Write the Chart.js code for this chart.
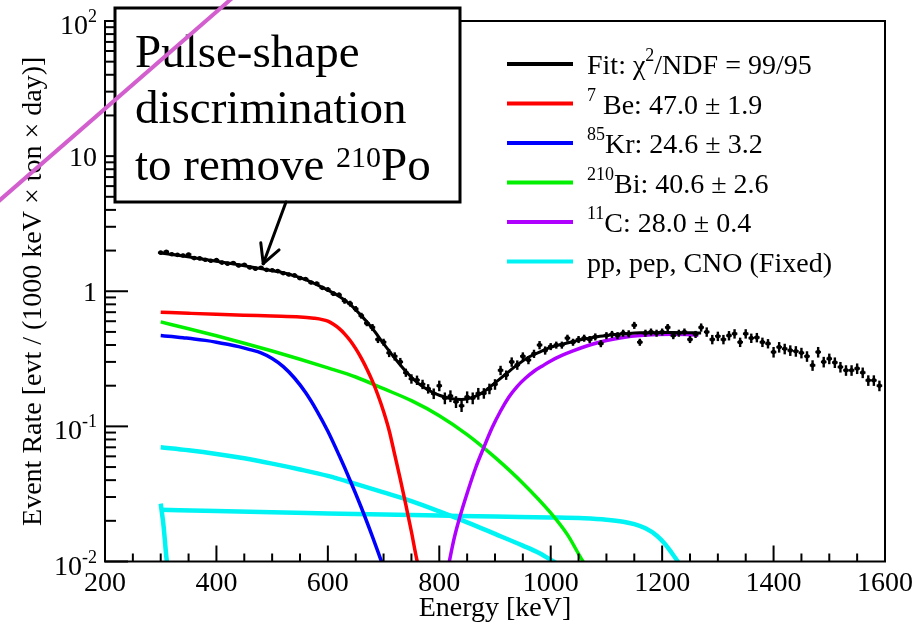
<!DOCTYPE html>
<html>
<head>
<meta charset="utf-8">
<script src="https://cdn.jsdelivr.net/npm/chart.js@4.4.1/dist/chart.umd.min.js"></script>
<style>
  html, body { margin:0; padding:0; background:#fff; }
  #wrap { width:916px; height:623px; }
</style>
</head>
<body>
<div id="wrap"><canvas id="spec" width="916" height="623"></canvas></div>
<script>
// ── measured spectrum (10 keV bins) ─────────────────────────
const binE = [
  300,310,320,330,340,350,360,370,380,390,
  400,410,420,430,440,450,460,470,480,490,
  500,510,520,530,540,550,560,570,580,590,
  600,610,620,630,640,650,660,670,680,690,
  700,710,720,730,740,750,760,770,780,790,
  800,810,820,830,840,850,860,870,880,890,
  900,910,920,930,940,950,960,970,980,990,
  1000,1010,1020,1030,1040,1050,1060,1070,1080,1090,
  1100,1110,1120,1130,1140,1150,1160,1170,1180,1190,
  1200,1210,1220,1230,1240,1250,1260,1270,1280,1290,
  1300,1310,1320,1330,1340,1350,1360,1370,1380,1390,
  1400,1410,1420,1430,1440,1450,1460,1470,1480,1490,
  1500,1510,1520,1530,1540,1550,1560,1570,1580,1590
];
const rate = [
  1.93,1.96,1.88,1.86,1.84,1.87,1.76,1.75,1.71,1.68,
  1.70,1.63,1.60,1.62,1.55,1.57,1.50,1.47,1.49,1.44,
  1.43,1.41,1.36,1.33,1.31,1.25,1.23,1.16,1.14,1.06,
  1.03,0.96,0.94,0.85,0.81,0.74,0.66,0.58,0.54,0.44,
  0.42,0.35,0.33,0.30,0.25,0.225,0.22,0.205,0.19,0.175,
  0.20,0.162,0.168,0.152,0.142,0.165,0.162,0.175,0.176,0.19,
  0.205,0.26,0.24,0.30,0.285,0.33,0.31,0.345,0.40,0.365,
  0.39,0.40,0.40,0.45,0.42,0.44,0.45,0.44,0.46,0.41,
  0.47,0.48,0.47,0.49,0.485,0.56,0.42,0.49,0.50,0.49,
  0.50,0.54,0.47,0.49,0.50,0.44,0.48,0.54,0.50,0.44,
  0.465,0.44,0.47,0.485,0.42,0.485,0.45,0.455,0.42,0.41,
  0.355,0.386,0.375,0.365,0.36,0.35,0.33,0.283,0.355,0.30,
  0.317,0.297,0.275,0.26,0.26,0.268,0.25,0.219,0.219,0.20
];
// relative uncertainty of each bin, percent
const ratePctErr = [
  3,3,3,3,3,3,3,3,3,3,
  3,3,3,3,3,3,3,3,3,3,
  3,3,3,3,3,3,3,3,3,3,
  4,4,4,5,5,5,5,5,6,6,
  6,7,7,7,7,8,8,8,8,9,
  9,10,10,10,10,10,10,10,9,9,
  9,8,8,8,8,7,7,7,7,7,
  6,6,6,6,6,6,6,6,6,6,
  6,6,6,6,6,6,6,6,6,6,
  6,6,6,6,6,6,6,7,8,8,
  8,8,8,8,8,8,8,8,8,8,
  9,9,9,9,9,9,9,9,9,9,
  9,9,9,9,9,9,9,9,9,9
];
const binHalfWidth = 5;

// ── fit and its components ──────────────────────────────────
const fitE = [300,320,340,360,380,400,420,440,460,480,500,520,540,560,580,600,620,640,660,680,
  700,720,740,760,780,800,820,840,860,880,900,920,940,960,980,1000,1020,1040,1060,1080,
  1100,1120,1140,1160,1180,1200,1220,1240,1260,1270];
const fitRate = [1.92,1.87,1.82,1.77,1.72,1.67,1.62,1.57,1.52,1.47,1.42,1.37,1.30,1.22,1.12,1.02,0.92,0.80,0.66,0.53,
  0.41,0.32,0.255,0.212,0.186,0.170,0.161,0.158,0.164,0.180,0.210,0.245,0.285,0.325,0.355,0.385,0.405,0.425,0.442,0.458,
  0.470,0.480,0.487,0.492,0.494,0.495,0.495,0.494,0.492,0.491];

const be7E    = [300,350,400,450,500,550,575,590,600,610,620,630,640,650,660,670,680,690,700,710,720,730,740,750,760,768];
const be7Rate = [0.70,0.687,0.675,0.665,0.656,0.646,0.631,0.617,0.600,0.569,0.531,0.484,0.432,0.376,0.320,0.266,0.216,0.170,0.129,0.0933,0.0617,0.0407,0.0263,0.0166,0.0102,0.0078];

const kr85E    = [300,320,340,360,380,400,420,440,460,480,500,520,540,560,580,600,620,640,660,680,690,700];
const kr85Rate = [0.470,0.462,0.453,0.444,0.433,0.420,0.405,0.389,0.370,0.350,0.318,0.277,0.228,0.178,0.131,0.092,0.0613,0.0398,0.0251,0.0153,0.0118,0.0090];

const bi210E    = [300,350,400,450,500,550,600,650,700,750,800,850,900,950,1000,1030,1058,1066];
const bi210Rate = [0.593,0.528,0.468,0.412,0.361,0.314,0.271,0.232,0.19,0.155,0.12,0.087,0.059,0.038,0.0229,0.0158,0.0100,0.0090];

const c11E    = [812,818,827,837,850,865,880,895,910,925,940,955,970,985,1000,1020,1040,1070,1100,1130,1160,1190,1220,1245,1265];
const c11Rate = [0.0075,0.0100,0.0150,0.0214,0.032,0.049,0.070,0.098,0.13,0.165,0.198,0.228,0.256,0.28,0.305,0.335,0.362,0.40,0.432,0.455,0.470,0.478,0.480,0.478,0.473];

const cnoE    = [300,350,400,450,500,550,600,650,700,750,800,850,900,950,980,1005,1012];
const cnoRate = [0.070,0.0665,0.0625,0.058,0.053,0.048,0.043,0.0375,0.0325,0.028,0.0235,0.0195,0.016,0.0131,0.0115,0.0100,0.0096];

const pepE    = [300,400,500,600,700,800,900,1000,1060,1100,1130,1150,1170,1190,1205,1217,1228,1233];
const pepRate = [0.0242,0.0236,0.0231,0.0227,0.0223,0.0219,0.0215,0.0212,0.0209,0.0204,0.0197,0.0189,0.0176,0.0156,0.0135,0.0116,0.0100,0.0093];

const ppE    = [300,305,311,312];
const ppRate = [0.0268,0.0185,0.0100,0.0095];

// ── axis ticks and legend text ──────────────────────────────
const xTickLabels = [200,400,600,800,1000,1200,1400,1600];
const yTickValues = [0.01,0.1,1,10,100];
const yTickBase   = ['10','10','1','10','10'];
const yTickExp    = ['-2','-1','','','2'];

const legendItems = [
  { color:'#000000', parts:[['Fit: \u03c7',0],['2',1],['/NDF = 99/95',0]] },
  { color:'#ff0000', parts:[['7',1],[' Be: 47.0 \u00b1 1.9',0]] },
  { color:'#0000ff', parts:[['85',1],['Kr: 24.6 \u00b1 3.2',0]] },
  { color:'#00f000', parts:[['210',1],['Bi: 40.6 \u00b1 2.6',0]] },
  { color:'#b000ff', parts:[['11',1],['C: 28.0 \u00b1 0.4',0]] },
  { color:'#00f4f4', parts:[['pp, pep, CNO (Fixed)',0]] }
];

const SERIF = '"Liberation Serif", "Times New Roman", serif';

function pts(xs, ys) { return xs.map((e, i) => ({ x: e, y: ys[i] })); }

function curve(label, xs, ys, color, width, order) {
  return {
    label, data: pts(xs, ys), borderColor: color, borderWidth: width,
    pointRadius: 0, fill: false, cubicInterpolationMode: 'monotone', clip: 0, order
  };
}

// draws a run of [text, isSuperscript] pieces starting at x
function richText(ctx, parts, x, y, size, supSize, supRise, align) {
  const w = parts.reduce((s, [t, sup]) => {
    ctx.font = (sup ? supSize : size) + 'px ' + SERIF;
    return s + ctx.measureText(t).width;
  }, 0);
  let cx = align === 'right' ? x - w : align === 'center' ? x - w / 2 : x;
  ctx.textAlign = 'left';
  ctx.textBaseline = 'alphabetic';
  parts.forEach(([t, sup]) => {
    ctx.font = (sup ? supSize : size) + 'px ' + SERIF;
    ctx.fillText(t, cx, sup ? y - supRise : y);
    cx += ctx.measureText(t).width;
  });
}

function seg(ctx, x1, y1, x2, y2) {
  ctx.beginPath(); ctx.moveTo(x1, y1); ctx.lineTo(x2, y2); ctx.stroke();
}

const decorations = {
  id: 'decorations',
  afterDatasetsDraw(chart) {
    const { ctx, chartArea: a, scales: { x, y } } = chart;
    ctx.save();
    ctx.fillStyle = '#000';
    ctx.strokeStyle = '#000';

    // error bars on the measured points
    ctx.lineWidth = 2.4;
    binE.forEach((e, i) => {
      const v = rate[i], d = v * ratePctErr[i] / 100;
      const px = x.getPixelForValue(e), py = y.getPixelForValue(v);
      seg(ctx, px, y.getPixelForValue(v + d), px, y.getPixelForValue(v - d));
      seg(ctx, x.getPixelForValue(e - binHalfWidth), py, x.getPixelForValue(e + binHalfWidth), py);
    });

    // frame
    ctx.lineWidth = 2;
    ctx.strokeRect(a.left, a.top, a.right - a.left, a.bottom - a.top);

    // x ticks every 50 keV, long ones at the labels
    for (let e = x.min; e <= x.max; e += 50) {
      const px = x.getPixelForValue(e);
      seg(ctx, px, a.bottom, px, a.bottom - (e % 200 === 0 ? 16 : 8));
    }
    ctx.textAlign = 'center';
    ctx.textBaseline = 'alphabetic';
    ctx.font = '28px ' + SERIF;
    xTickLabels.forEach(e => ctx.fillText(String(e), x.getPixelForValue(e), a.bottom + 29));

    // y ticks: decades long, 2..9 short
    yTickValues.forEach((v, k) => {
      const py = y.getPixelForValue(v);
      seg(ctx, a.left, py, a.left + 23, py);
      if (k < yTickValues.length - 1) {
        for (let m = 2; m <= 9; m++) {
          const pm = y.getPixelForValue(v * m);
          seg(ctx, a.left, pm, a.left + 11, pm);
        }
      }
      const parts = [[yTickBase[k], 0]];
      if (yTickExp[k]) parts.push([yTickExp[k], 1]);
      richText(ctx, parts, a.left - 8, py + (yTickExp[k] ? 13 : 10), 28, 18, 12, 'right');
    });

    // axis titles
    ctx.font = '28px ' + SERIF;
    ctx.textAlign = 'center';
    ctx.fillText('Energy [keV]', (a.left + a.right) / 2, 616);
    ctx.save();
    ctx.translate(41, (a.top + a.bottom) / 2);
    ctx.rotate(-Math.PI / 2);
    ctx.fillText('Event Rate [evt / (1000 keV \u00d7 ton \u00d7 day)]', 0, 0);
    ctx.restore();

    // legend
    legendItems.forEach((it, i) => {
      const ly = 64 + i * 39.5;
      ctx.strokeStyle = it.color;
      ctx.lineWidth = 4;
      seg(ctx, 507, ly, 573, ly);
      ctx.fillStyle = '#000';
      richText(ctx, it.parts, 587, ly + 10, 28, 18, 13, 'left');
    });

    // callout box
    ctx.fillStyle = '#fff';
    ctx.fillRect(115, 8, 345, 194);
    ctx.strokeStyle = '#000';
    ctx.lineWidth = 3;
    ctx.strokeRect(115, 8, 345, 194);
    ctx.fillStyle = '#000';
    richText(ctx, [['Pulse-shape', 0]], 135, 67, 47, 30, 13, 'left');
    richText(ctx, [['discrimination', 0]], 135, 123, 47, 30, 13, 'left');
    richText(ctx, [['to remove ', 0], ['210', 1], ['Po', 0]], 135, 180, 47, 30, 13, 'left');

    // arrow from the box down onto the spectrum
    const tx = x.getPixelForValue(484), ty = y.getPixelForValue(1.6);
    const sx = 286, sy = 202;
    ctx.lineWidth = 3;
    ctx.lineCap = 'round';
    seg(ctx, sx, sy, tx, ty);
    const ang = Math.atan2(sy - ty, sx - tx);
    [-0.47, 0.5].forEach(da => {
      seg(ctx, tx, ty, tx + 21 * Math.cos(ang + da), ty + 21 * Math.sin(ang + da));
    });

    // hand-drawn slash across the corner
    ctx.strokeStyle = '#d35fce';
    ctx.lineWidth = 4;
    seg(ctx, -10, 208.7, 240, -8.7);

    ctx.restore();
  }
};

new Chart(document.getElementById('spec'), {
  type: 'line',
  data: {
    datasets: [
      {
        label: 'data', data: pts(binE, rate), showLine: false,
        pointRadius: 2.3, pointBackgroundColor: '#000', pointBorderWidth: 0, order: 0
      },
      curve('Fit', fitE, fitRate, '#000000', 3, 1),
      curve('11C', c11E, c11Rate, '#b000ff', 3.5, 2),
      curve('7Be', be7E, be7Rate, '#ff0000', 3.5, 3),
      curve('210Bi', bi210E, bi210Rate, '#00f000', 3.5, 4),
      curve('85Kr', kr85E, kr85Rate, '#0000ff', 3.5, 5),
      curve('CNO', cnoE, cnoRate, '#00f4f4', 4.5, 6),
      curve('pep', pepE, pepRate, '#00f4f4', 4.5, 7),
      curve('pp', ppE, ppRate, '#00f4f4', 4.5, 8)
    ]
  },
  options: {
    responsive: false,
    animation: false,
    devicePixelRatio: 1,
    layout: { padding: { left: 105, top: 21, right: 31, bottom: 61.5 } },
    scales: {
      x: { type: 'linear', min: 200, max: 1600, display: false },
      y: { type: 'logarithmic', min: 0.01, max: 100, display: false }
    },
    plugins: { legend: { display: false }, tooltip: { enabled: false } }
  },
  plugins: [decorations]
});
</script>
</body>
</html>
